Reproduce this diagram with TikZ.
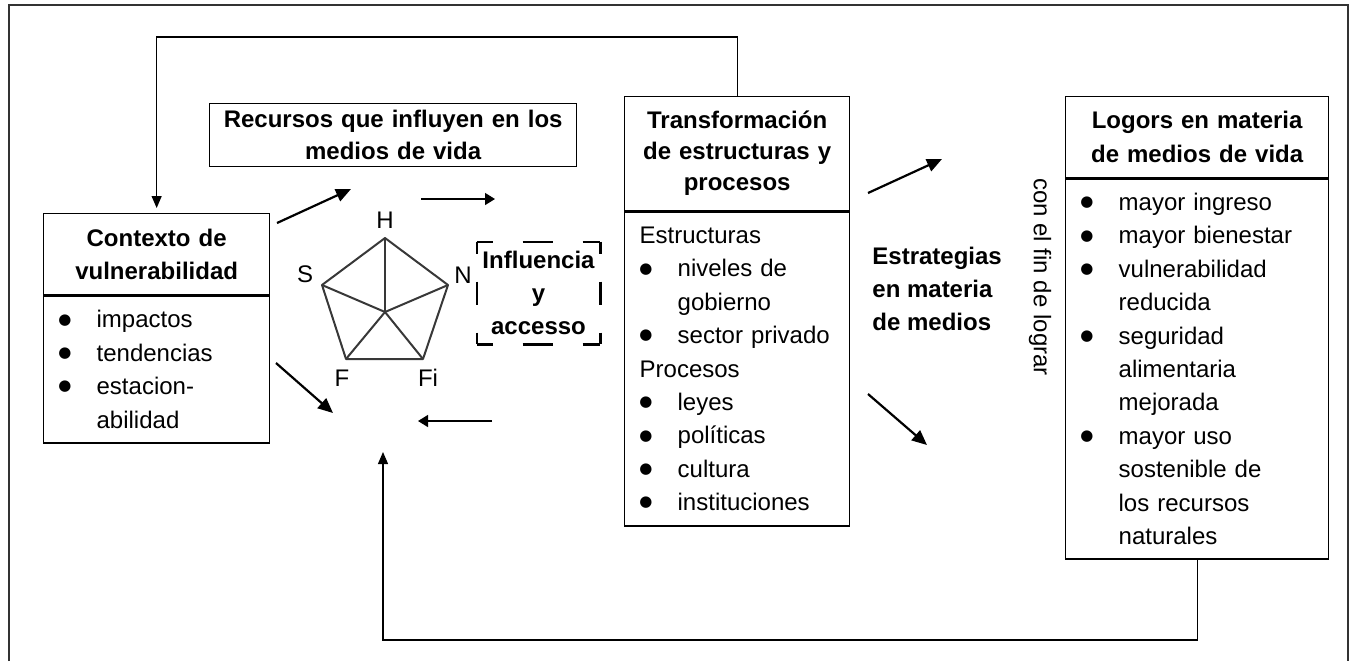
\documentclass[tikz,border=0pt]{standalone}
\usepackage{fontspec}
\setmainfont{Liberation Sans}
\newfontfamily\simbolo{DejaVu Sans}
\usetikzlibrary{positioning,arrows.meta}
\definecolor{marco}{rgb}{0.2,0.2,0.2}
\definecolor{penta}{rgb}{0.22,0.22,0.22}
\newcommand{\bul}[1]{\makebox[19pt][l]{\hspace*{-0.2pt}\raisebox{1.9pt}{\simbolo\fontsize{7.5}{7.5}\selectfont ●}}#1}
\newcommand{\cont}[1]{\hspace*{19pt}#1}
\tikzset{
    cabeza/.style={
    rectangle,draw=black,line width=0.65pt,inner sep=0pt,align=center,
    font=\fontsize{12}{16.5}\selectfont\bfseries
    },
    cuerpo/.style={
    rectangle,draw=black,line width=0.65pt,inner xsep=7.5pt,inner ysep=0pt,align=left,
    font=\fontsize{12}{16.7}\selectfont
    },
    vert/.style={inner sep=0pt,font=\fontsize{12}{14}\selectfont},
    texto/.style={inner sep=0pt,align=left,font=\fontsize{12}{16.7}\selectfont\bfseries},
  flecha/.style={draw,line width=0.7pt,-{Triangle[length=5pt,width=6pt]}},
  flechag/.style={draw,line width=1.1pt,-{Triangle[length=7.5pt,width=6.5pt]}},
  retro/.style={draw,line width=0.6pt,-{Triangle[length=6pt,width=5pt]}},
  lado/.style={draw,line width=1.1pt}
}
\begin{document}
\begin{tikzpicture}[x=0.5pt,y=-0.5pt]
    \useasboundingbox (0,0) rectangle (1352,661);
    \draw[marco,line width=0.75pt] (9,661) -- (9,5) -- (1348,5) -- (1348,661);

    % cajas
    \node[cabeza,anchor=north west,text width=113pt,minimum height=40.5pt] (ctx) at (43,213) {Contexto de\\vulnerabilidad};
    \node[cuerpo,below=0pt of ctx,text width=98pt,minimum height=73.5pt] (ctxb) {\bul{impactos}\\\bul{tendencias}\\\bul{estacion-}\\\cont{abilidad}};

    \node[cabeza,anchor=north west,text width=183.5pt,minimum height=31.5pt,font=\fontsize{12}{16}\selectfont\bfseries] (rec) at (209,103) {Recursos que influyen en los\\medios de vida};

    \node[cabeza,anchor=north west,text width=112.5pt,minimum height=57pt,font=\fontsize{12}{15.5}\selectfont\bfseries] (trans) at (624,96) {Transformación\\de estructuras y\\procesos};
    \node[cuerpo,below=0pt of trans,text width=97.5pt,minimum height=157pt] (transb) {Estructuras\\\bul{niveles de}\\\cont{gobierno}\\\bul{sector privado}\\Procesos\\\bul{leyes}\\\bul{políticas}\\\bul{cultura}\\\bul{instituciones}};

    \node[cabeza,anchor=north west,text width=131.5pt,minimum height=40.5pt,font=\fontsize{12}{17}\selectfont\bfseries] (log) at (1065,96) {Logors en materia\\de medios de vida};
    \node[cuerpo,below=0pt of log,text width=116.5pt,minimum height=190pt] (logb) {\bul{mayor ingreso}\\\bul{mayor bienestar}\\\bul{vulnerabilidad}\\\cont{reducida}\\\bul{seguridad}\\\cont{alimentaria}\\\cont{mejorada}\\\bul{mayor uso}\\\cont{sostenible de}\\\cont{los recursos}\\\cont{naturales}};

    % pentagono
    \coordinate (pH) at (385,238);
    \coordinate (pN) at (448,285);
    \coordinate (pFi) at (423,359);
    \coordinate (pF) at (346,359);
    \coordinate (pS) at (322,285);
    \coordinate (pc) at (385,312);
    \draw[penta,line width=1pt,line join=round] (pH) -- (pN) -- (pFi) -- (pF) -- (pS) -- cycle;
    \foreach \v in {pH,pN,pFi,pF,pS}
      \draw[penta,line width=1pt] (pc) -- (\v);
    \node[vert] (lH) at (385,220) {H};
    \node[vert] (lS) at (305,274) {S};
    \node[vert] (lN) at (463,275) {N};
    \node[vert] (lF) at (342,378) {F};
    \node[vert] (lFi) at (428,378) {Fi};

    \node[inner sep=0pt,text width=61.5pt,minimum height=51pt,align=center,font=\fontsize{12}{16.7}\selectfont\bfseries] (infl) at (538.5,293) {Influencia\\y\\accesso};
    \draw[lado,dash pattern=on 15pt off 15pt,dash phase=7pt] (infl.north west) -- (infl.north east);
    \draw[lado,dash pattern=on 15pt off 15pt,dash phase=7pt] (infl.south west) -- (infl.south east);
    \draw[lado,dash pattern=on 11.5pt off 14pt,dash phase=5.5pt] (infl.north west) -- (infl.south west);
    \draw[lado,dash pattern=on 11.5pt off 14pt,dash phase=5.5pt] (infl.north east) -- (infl.south east);

    \node[texto,anchor=west] (estr) at (872,289) {Estrategias\\en materia\\de medios};
    \node[vert,rotate=-90] (fin) at (1040,277) {con el fin de lograr};

    % extremos libres
    \coordinate (a1) at (277,223);
    \coordinate (a2) at (351,189);
    \coordinate (b1) at (421,199);
    \coordinate (b2) at (495,199);
    \coordinate (c1) at (276,363);
    \coordinate (c2) at (333,413);
    \coordinate (d1) at (492,421);
    \coordinate (d2) at (418,421);
    \coordinate (e1) at (868,193);
    \coordinate (e2) at (942,159);
    \coordinate (f1) at (868,394);
    \coordinate (f2) at (927,445);
    \coordinate (arriba) at (0,37);
    \coordinate (abajo) at (383,640);
    \coordinate (recin) at (383,452);

    \begin{scope}
      \path[flechag] (a1) -- (a2);
      \path[flecha] (b1) -- (b2);
      \path[flechag] (c1) -- (c2);
      \path[flecha] (d1) -- (d2);
      \path[flechag] (e1) -- (e2);
      \path[flechag] (f1) -- (f2);

      \path[retro,shorten >=2.5pt] (trans.north) -- (trans.north |- arriba) -| (ctx.north);
      \path[retro] (logb.south) |- (abajo) -- (recin);
    \end{scope}

  \end{tikzpicture}
\end{document}
